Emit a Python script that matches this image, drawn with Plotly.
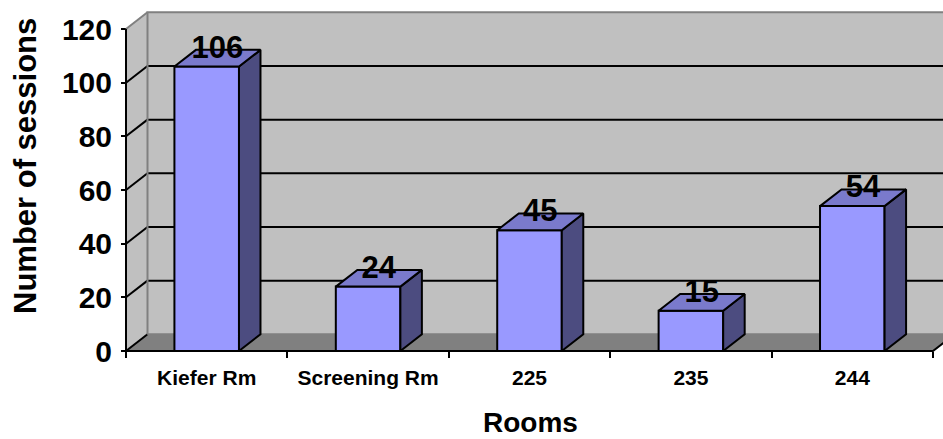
import plotly.graph_objects as go

# ---------------- data ----------------
rooms = ["Kiefer Rm", "Screening Rm", "225", "235", "244"]
sessions = [106, 24, 45, 15, 54]
y_ticks = [0, 20, 40, 60, 80, 100, 120]

# ---------------- geometry / style ----------------
W, H = 943, 439
ML, MB = 110, 80
X_FRONT_PX = 126            # pixel of the front-left corner of the plot box
CAT_PX = 161.4              # pixels per category
Y0_PX = 351                 # pixel of value 0 on the front plane
VAL_PX = (351 - 29) / 120   # pixels per value unit
DX = 21.5 / CAT_PX          # depth offset (category units)
DY = 16.7 / VAL_PX          # depth offset (value units)
BAR_HALF = 0.2

FONT = "Arial, Liberation Sans, sans-serif"
FRONT = "#9999FF"
TOP = "#7A7ACC"
SIDE = "#4C4C80"
WALL = "#C0C0C0"
FLOOR = "#808080"
EDGE = "#808080"

n = len(rooms)
xs = list(range(n))
left, right = -0.5, n - 0.5
ymax = y_ticks[-1]

x_range = [left - (X_FRONT_PX - ML) / CAT_PX, left + (W - X_FRONT_PX) / CAT_PX]
y_range = [-(H - MB - Y0_PX) / VAL_PX, Y0_PX / VAL_PX]


def poly(xl, yl, fill, line_color=None, width=0, z=0):
    return go.Scatter(
        x=list(xl) + [xl[0]], y=list(yl) + [yl[0]], mode="lines", fill="toself",
        fillcolor=fill, line=dict(color=line_color or fill, width=width),
        hoverinfo="skip", showlegend=False, zorder=z)


def lines(xl, yl, color, width=2, z=1):
    return go.Scatter(x=xl, y=yl, mode="lines", line=dict(color=color, width=width),
                      hoverinfo="skip", showlegend=False, zorder=z)


fig = go.Figure()

# walls and floor
fig.add_trace(poly([left + DX, right + DX, right + DX, left + DX],
                   [DY, DY, ymax + DY, ymax + DY], WALL))
fig.add_trace(poly([left, left + DX, left + DX, left],
                   [0, DY, ymax + DY, ymax], WALL))
fig.add_trace(poly([left, left + DX, right + DX, right],
                   [0, DY, DY, 0], FLOOR))

# gridlines (back wall + left wall diagonals)
gx, gy = [], []
for t in y_ticks[1:-1]:
    gx += [left + DX, right + DX, None]
    gy += [t + DY, t + DY, None]
for t in y_ticks[:-1]:
    gx += [left, left + DX, None]
    gy += [t, t + DY, None]
fig.add_trace(lines(gx, gy, "black", 2, 1))

# wall edges
fig.add_trace(lines([left + DX, left + DX, right + DX, None, left, left + DX, None, left + DX, right + DX],
                    [DY, ymax + DY, ymax + DY, None, ymax, ymax + DY, None, DY, DY], EDGE, 2, 1))

# front axes lines
fig.add_trace(lines([left, left, right, right + DX], [ymax, 0, 0, DY], "black", 2, 2))

# bars: front faces
fig.add_trace(go.Bar(x=xs, y=sessions, width=2 * BAR_HALF, base=0,
                     marker=dict(color=FRONT, line=dict(color="black", width=2)),
                     hoverinfo="skip", showlegend=False, zorder=5))

# bars: side and top faces
for i, v in zip(xs, sessions):
    fig.add_trace(poly([i + BAR_HALF, i + BAR_HALF + DX, i + BAR_HALF + DX, i + BAR_HALF],
                       [0, DY, v + DY, v], SIDE, "black", 2, 6))
    fig.add_trace(poly([i - BAR_HALF, i + BAR_HALF, i + BAR_HALF + DX, i - BAR_HALF + DX],
                       [v, v, v + DY, v + DY], TOP, "black", 2, 6))

# data labels
fig.add_trace(go.Scatter(
    x=[i + DX / 2 for i in xs], y=[v + DY for v in sessions], mode="text",
    text=[str(v) for v in sessions], textposition="middle center",
    textfont=dict(family=FONT, size=31, color="black", weight="bold"),
    cliponaxis=False, hoverinfo="skip", showlegend=False, zorder=8))

plot_w = W - ML
plot_h = H - MB

fig.update_layout(
    width=W, height=H,
    margin=dict(l=ML, r=0, t=0, b=MB, pad=0),
    paper_bgcolor="white", plot_bgcolor="white",
    showlegend=False,
    xaxis=dict(range=x_range, tickmode="array", tickvals=xs, ticktext=rooms, ticks="",
               showgrid=False, zeroline=False, showline=False,
               anchor="free", position=(H - MB - Y0_PX) / plot_h,
               tickfont=dict(family=FONT, size=21, color="black", weight="bold"),
               ticklabelstandoff=12,
               minor=dict(tickmode="array", tickvals=[left + k for k in range(n + 1)],
                          ticks="outside", ticklen=6, tickwidth=2, tickcolor="black",
                          showgrid=False)),
    yaxis=dict(range=y_range, tickmode="array", tickvals=y_ticks, ticks="outside",
               ticklen=5, tickwidth=2, tickcolor="black",
               showgrid=False, zeroline=False, showline=False,
               anchor="free", position=(X_FRONT_PX - ML) / plot_w,
               tickfont=dict(family=FONT, size=30, color="black", weight="bold"),
               ticklabelstandoff=3),
    annotations=[
        dict(text="Number of sessions", textangle=-90, xref="paper", yref="paper",
             x=(25 - ML) / plot_w, y=(plot_h - 166) / plot_h, xanchor="center", yanchor="middle",
             showarrow=False, font=dict(family=FONT, size=31, color="black", weight="bold")),
        dict(text="Rooms", xref="paper", yref="paper",
             x=(530 - ML) / plot_w, y=(plot_h - 422) / plot_h, xanchor="center", yanchor="middle",
             showarrow=False, font=dict(family=FONT, size=28, color="black", weight="bold")),
    ],
)

fig.write_html("out.html")
